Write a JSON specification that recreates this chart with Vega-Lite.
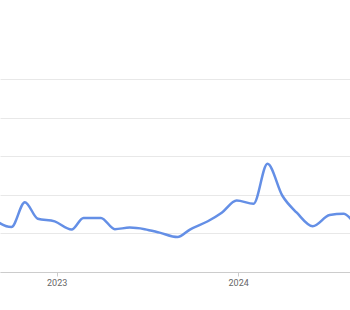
{
  "$schema": "https://vega.github.io/schema/vega-lite/v6.json",
  "width": 350,
  "height": 193,
  "autosize": {"type": "none"},
  "padding": {"top": 79, "left": 0, "right": 0, "bottom": 38},
  "config": {
    "view": {"stroke": null},
    "font": "Roboto"
  },
  "data": {
    "values": [
      {"date": "2022-08-10", "value": 31.3},
      {"date": "2022-10-02", "value": 23.3},
      {"date": "2022-10-29", "value": 36.2},
      {"date": "2022-11-24", "value": 27.6},
      {"date": "2022-12-28", "value": 26.2},
      {"date": "2023-01-31", "value": 22.0},
      {"date": "2023-02-24", "value": 28.0},
      {"date": "2023-03-31", "value": 28.0},
      {"date": "2023-04-28", "value": 22.2},
      {"date": "2023-05-28", "value": 23.0},
      {"date": "2023-06-27", "value": 22.2},
      {"date": "2023-07-27", "value": 20.4},
      {"date": "2023-09-01", "value": 18.1},
      {"date": "2023-09-26", "value": 22.0},
      {"date": "2023-11-01", "value": 26.3},
      {"date": "2023-11-29", "value": 30.7},
      {"date": "2023-12-29", "value": 37.0},
      {"date": "2024-02-01", "value": 35.4},
      {"date": "2024-02-29", "value": 56.1},
      {"date": "2024-03-30", "value": 39.5},
      {"date": "2024-04-28", "value": 30.7},
      {"date": "2024-05-30", "value": 23.7},
      {"date": "2024-07-03", "value": 29.5},
      {"date": "2024-07-31", "value": 30.2},
      {"date": "2024-08-22", "value": 25.1}
    ]
  },
  "mark": {"type": "line", "interpolate": "monotone", "clip": true, "color": "#648fe6", "strokeWidth": 2.5},
  "encoding": {
    "x": {
      "field": "date",
      "type": "temporal",
      "scale": {"domain": ["2022-09-09", "2024-08-13"]},
      "axis": {
        "title": null,
        "values": ["2023-01-01", "2024-01-01"],
        "format": "%Y",
        "grid": false,
        "domainColor": "#cccccc",
        "tickColor": "#cccccc",
        "tickSize": 4,
        "labelFontSize": 9,
        "labelColor": "#666666",
        "labelPadding": 2
      }
    },
    "y": {
      "field": "value",
      "type": "quantitative",
      "scale": {"domain": [0, 100]},
      "axis": {
        "title": null,
        "values": [0, 20, 40, 60, 80, 100],
        "labels": false,
        "ticks": false,
        "domain": false,
        "gridColor": "#e8e8e8"
      }
    }
  }
}
